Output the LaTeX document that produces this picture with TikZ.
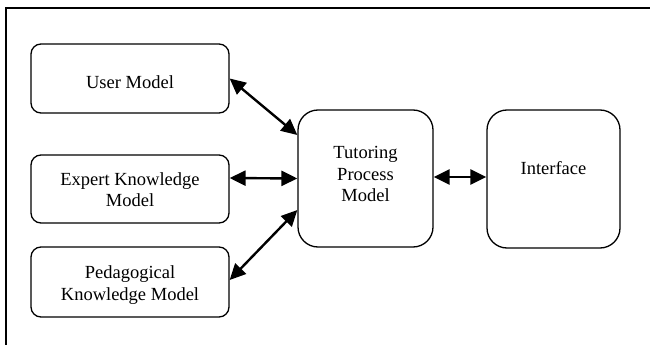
\documentclass[tikz,border=0pt]{standalone}
\usepackage{fontspec}
\setmainfont{Liberation Serif}
\usetikzlibrary{arrows.meta}

\tikzset{
  smallbox/.style={draw, line width=1.3pt, rounded corners=10pt,
    minimum width=198pt, minimum height=69pt, inner sep=0pt},
  bigbox/.style={draw, line width=1.3pt, rounded corners=20pt,
    minimum width=135pt, minimum height=137pt, inner sep=0pt},
  boxtext/.style={align=center, inner sep=0pt,
    font=\fontsize{18.5}{21.5}\selectfont},
  link/.style={line width=2.4pt, {Triangle[length=16pt,width=15pt]}-{Triangle[length=16pt,width=15pt]}},
}

\begin{document}
\begin{tikzpicture}[x=1pt, y=-1pt]
  \useasboundingbox (0,0) rectangle (650,345);
  % outer frame, running off the right and bottom edges
  \draw[line width=1.5pt] (6,8) rectangle (700,400);

  % boxes
  \node[smallbox] (user)   at (130,78.5) {};
  \node[smallbox, minimum height=68pt] (expert) at (130,189) {};
  \node[smallbox, minimum height=70pt] (peda)   at (130,282) {};
  \node[bigbox] (tutor) at (365.5,178.5) {};
  \node[bigbox, minimum width=133pt, minimum height=138pt] (iface) at (553.5,179) {};

  % labels
  \node[boxtext] (usertxt)   at (130,82)    {User Model};
  \node[boxtext] (experttxt) at (130,189.5) {Expert Knowledge\\Model};
  \node[boxtext] (pedatxt)   at (130,285)   {Pedagogical\\Knowledge Model};
  \node[boxtext] (tutortxt)  at (365.5,174) {Tutoring\\Process\\Model};
  \node[boxtext] (ifacetxt)  at (553.5,168) {Interface};

  % connectors
  \draw[link] (user.east) -- ([yshift=43.5pt]tutor.west);
  \draw[link] ([yshift=11pt]expert.east) -- (tutor.west);
  \draw[link] ([yshift=2pt]peda.east) -- ([yshift=-31.5pt]tutor.west);
  \draw[link] ([yshift=1.5pt]tutor.east) -- ([yshift=1.5pt]tutor.east -| iface.west);
\end{tikzpicture}
\end{document}
